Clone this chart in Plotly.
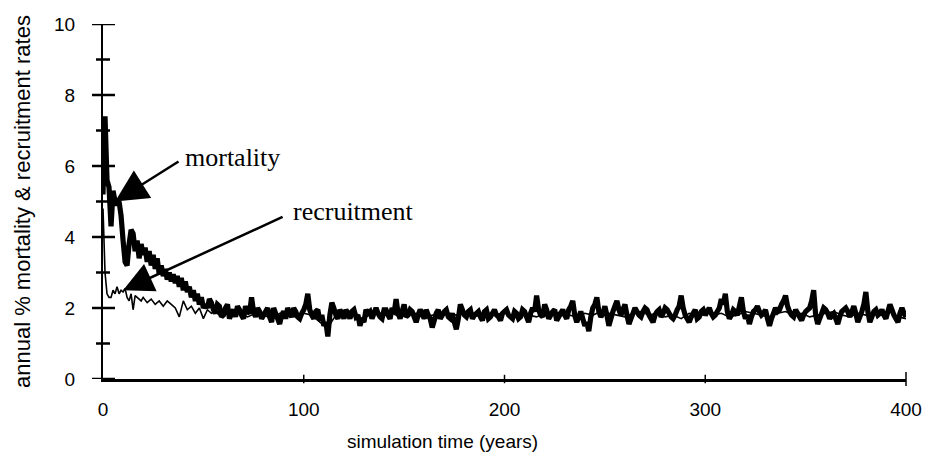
import plotly.graph_objects as go

# ---- data ----
mort_years = list(range(0, 401))
mortality = [
    # 0-20
    5.2, 7.4, 5.6, 5.4, 4.3, 5.3, 5.0, 4.9, 5.0, 4.6, 3.9, 3.3, 3.2, 3.8, 4.2, 4.1, 3.6, 3.9, 3.4, 3.8, 3.5,
    # 21-40
    3.7, 3.3, 3.6, 3.2, 3.5, 3.1, 3.4, 2.95, 3.2, 2.9, 3.1, 2.8, 3.0, 2.75, 2.95, 2.7, 2.9, 2.6, 2.85, 2.5,
    # 41-60
    2.75, 2.45, 2.6, 2.3, 2.5, 2.2, 2.4, 2.1, 2.3, 2.0, 2.1, 2.0, 2.25, 2.15, 1.95, 1.85, 2.1, 2.05, 1.75, 1.8,
    # 61-80
    2.0, 2.1, 1.7, 1.85, 1.95, 1.75, 2.05, 1.95, 1.8, 1.7, 2.05, 1.9, 1.85, 2.3, 1.9, 1.75, 2.0, 1.9, 1.7, 1.8,
    # 81-100
    1.9, 2.0, 1.75, 1.6, 2.0, 1.85, 1.7, 1.55, 1.8, 1.9, 1.7, 2.0, 1.85, 1.75, 2.0, 1.9, 1.75, 1.7, 1.85, 1.95,
    # 101-120
    2.1, 2.4, 1.95, 1.8, 1.7, 1.9, 1.95, 1.65, 1.8, 1.5, 1.6, 1.2, 1.8, 2.15, 2.0, 1.8, 1.7, 1.95, 1.85, 1.7,
    # 121-140
    1.95, 1.85, 1.7, 1.9, 1.95, 1.75, 1.8, 1.5, 1.7, 1.6, 1.95, 1.85, 1.9, 1.7, 1.85, 2.0, 1.85, 1.75, 1.7, 1.95,
    # 141-160
    1.95, 1.8, 1.7, 2.0, 1.85, 2.25, 1.85, 1.7, 1.9, 2.1, 1.75, 1.8, 1.95, 1.9, 1.75, 1.6, 1.8, 1.95, 1.85, 1.7,
    # 161-180
    1.95, 1.8, 1.7, 1.45, 1.65, 1.85, 1.95, 1.7, 1.8, 1.9, 1.95, 1.75, 1.7, 1.85, 1.6, 1.4, 1.7, 2.1, 1.95, 1.8,
    # 181-200
    1.75, 1.9, 1.95, 1.7, 1.8, 1.85, 1.9, 1.75, 1.65, 1.9, 1.95, 1.7, 1.75, 1.85, 1.95, 1.8, 1.75, 1.65, 1.85, 1.9,
    # 201-220
    1.95, 1.8, 1.75, 1.7, 1.9, 1.85, 1.7, 1.75, 1.95, 1.9, 1.75, 1.6, 1.85, 2.0, 1.9, 2.35, 1.95, 1.8, 1.75, 2.1,
    # 221-240
    1.95, 1.7, 1.8, 1.9, 1.95, 1.65, 1.75, 1.85, 1.95, 1.8, 1.7, 1.95, 2.05, 2.2, 1.8, 1.6, 1.75, 1.9, 1.7, 1.5,
    # 241-260
    1.6, 1.35, 1.75, 2.0, 2.1, 2.3, 1.9, 1.75, 1.85, 2.05, 1.8, 1.5, 1.7, 1.9, 2.05, 2.2, 1.95, 1.8, 1.95, 2.1,
    # 261-280
    1.8, 1.55, 1.7, 1.85, 2.0, 1.9, 1.8, 1.75, 1.9, 2.0, 1.95, 1.8, 1.7, 1.6, 1.8, 1.9, 1.95, 1.75, 1.85, 2.0,
    # 281-300
    1.95, 1.85, 1.75, 1.7, 1.8, 1.95, 2.05, 2.35, 2.0, 1.8, 1.7, 1.6, 1.75, 1.85, 1.95, 1.7, 1.75, 1.9, 1.95, 1.8,
    # 301-320
    1.9, 2.0, 1.85, 1.75, 1.8, 1.9, 2.0, 2.25, 2.1, 2.4, 1.9, 1.7, 1.8, 1.95, 1.9, 1.8, 2.05, 2.3, 1.9, 1.7,
    # 321-340
    1.8, 1.55, 1.75, 1.9, 1.95, 2.05, 1.9, 1.8, 1.85, 1.95, 1.7, 1.5, 1.7, 1.85, 2.0, 1.9, 1.95, 2.1, 2.2, 2.35,
    # 341-360
    2.05, 1.9, 1.8, 1.75, 1.95, 1.85, 1.75, 1.65, 1.8, 1.9, 1.95, 2.0, 2.2, 2.5, 1.8, 1.55, 1.7, 1.85, 2.0, 1.95,
    # 361-380
    1.85, 1.7, 1.8, 1.85, 1.7, 1.55, 1.75, 1.9, 1.95, 2.0, 1.9, 1.75, 1.9, 2.05, 1.85, 1.6, 1.75, 1.9, 2.1, 2.45,
    # 381-400
    1.9, 1.6, 1.75, 1.9, 1.95, 1.8, 1.85, 1.95, 1.8, 1.7, 1.9, 2.1, 1.95, 1.8, 1.7, 1.6, 1.85, 2.0, 1.85, 1.75,
]

rec_years = list(range(0, 21)) + list(range(22, 61, 2)) + list(range(64, 401, 4))
recruitment = [
    # 0-20
    4.8, 3.0, 2.4, 2.3, 2.3, 2.5, 2.4, 2.6, 2.4, 2.5, 2.45, 2.55, 2.3, 2.2, 2.4, 1.95, 2.35, 2.3, 2.25, 2.2, 2.3,
    # 22-60 (step 2)
    2.15, 2.25, 2.1, 2.2, 2.05, 2.2, 2.1, 2.0, 1.75, 2.2, 1.95, 2.05, 1.85, 2.0, 1.7, 1.95, 1.85, 1.9, 1.8, 1.9,
    # 64-100 (step 4)
    1.8, 1.85, 1.75, 1.85, 1.8, 1.7, 1.85, 1.8, 1.75, 1.85,
    # 104-140
    1.8, 1.6, 1.45, 1.8, 1.75, 1.85, 1.7, 1.8, 1.85, 1.8,
    # 144-180
    1.85, 1.75, 1.8, 1.85, 1.7, 1.8, 1.75, 1.85, 1.8, 1.9,
    # 184-220
    1.75, 1.8, 1.85, 1.8, 1.9, 1.75, 1.85, 1.8, 1.75, 1.85,
    # 224-260
    1.8, 1.9, 1.8, 1.75, 1.85, 1.8, 1.9, 1.85, 1.8, 1.75,
    # 264-300
    1.85, 1.9, 1.8, 1.85, 1.75, 1.8, 1.7, 1.85, 1.8, 1.9,
    # 304-340
    1.8, 1.85, 1.75, 1.8, 1.9, 1.85, 1.8, 1.75, 1.85, 1.9,
    # 344-380
    1.8, 1.85, 1.75, 1.8, 1.85, 1.9, 1.8, 1.75, 1.85, 1.8,
    # 384-400
    1.85, 1.8, 1.9, 1.75, 1.7,
]

x_ticks = [0, 100, 200, 300, 400]
y_ticks = [0, 2, 4, 6, 8, 10]
y_minor = [1, 3, 5, 7, 9]

x_title = "simulation time (years)"
y_title = "annual % mortality & recruitment rates"

fig = go.Figure()
fig.add_trace(go.Scatter(x=rec_years, y=recruitment, mode="lines",
                         line=dict(color="black", width=1.6, simplify=False), name="recruitment",
                         showlegend=False, hoverinfo="skip"))
fig.add_trace(go.Scatter(x=mort_years, y=mortality, mode="lines",
                         line=dict(color="black", width=5.2, simplify=False), name="mortality",
                         showlegend=False, hoverinfo="skip"))

# small tick marks on the x axis (vertical line markers)
fig.add_trace(go.Scatter(x=x_ticks[1:-1], y=[0] * (len(x_ticks) - 2), mode="markers", cliponaxis=False,
                         marker=dict(symbol="line-ns", size=6, color="black",
                                     line=dict(color="black", width=1.5)),
                         showlegend=False, hoverinfo="skip"))
fig.add_trace(go.Scatter(x=x_ticks[-1:], y=[0], mode="markers", cliponaxis=False,
                         marker=dict(symbol="line-ns", size=10, color="black",
                                     line=dict(color="black", width=1.5)),
                         showlegend=False, hoverinfo="skip"))

tickfont = dict(family="Liberation Sans, Arial, sans-serif", size=19, color="black")

fig.update_layout(
    width=951, height=460,
    margin=dict(l=103, r=45, t=24, b=81),
    paper_bgcolor="white", plot_bgcolor="white",
    xaxis=dict(range=[0, 400], tickmode="array", tickvals=x_ticks, ticks="",
               showline=True, linecolor="black", linewidth=3,
               showgrid=False, zeroline=False, tickfont=tickfont, ticklabelstandoff=11),
    yaxis=dict(range=[0, 10], tickmode="array", tickvals=y_ticks, ticks="",
               showline=True, linecolor="black", linewidth=2,
               showgrid=False, zeroline=False, tickfont=tickfont, ticklabelstandoff=22),
)

pw, ph = 951 - 103 - 45, 460 - 24 - 81

# y-axis tick marks crossing the axis line (major and minor)
for v in y_ticks:
    fig.add_shape(type="line", xref="x domain", yref="y", x0=-11 / pw, x1=12 / pw, y0=v, y1=v,
                  line=dict(color="black", width=2.5), layer="above")
for v in y_minor:
    fig.add_shape(type="line", xref="x domain", yref="y", x0=-7 / pw, x1=7 / pw, y0=v, y1=v,
                  line=dict(color="black", width=2.5), layer="above")

labfont = dict(family="Liberation Serif, Times New Roman, serif", size=26, color="black")
fig.add_annotation(x=6, y=5.0, xref="x", yref="y", ax=65, ay=-41, text="",
                   showarrow=True, arrowhead=2, arrowsize=2.6, arrowwidth=2.5, arrowcolor="black")
fig.add_annotation(x=10, y=2.5, xref="x", yref="y", ax=161, ay=-74, text="",
                   showarrow=True, arrowhead=2, arrowsize=2.4, arrowwidth=2.5, arrowcolor="black")


def px_to_paper(px, py):
    return (px - 103) / pw, 1 - (py - 24) / ph


mx, my = px_to_paper(183, 158)
fig.add_annotation(x=mx, y=my, xref="paper", yref="paper", text="mortality",
                   showarrow=False, font=labfont, xanchor="left", yanchor="middle")
rx, ry = px_to_paper(291, 211)
fig.add_annotation(x=rx, y=ry, xref="paper", yref="paper", text="recruitment",
                   showarrow=False, font=labfont, xanchor="left", yanchor="middle")

tx, ty = px_to_paper(442, 441)
fig.add_annotation(x=tx, y=ty, xref="paper", yref="paper",
                   text=x_title, showarrow=False, xanchor="center", yanchor="middle",
                   font=dict(family="Liberation Sans, Arial, sans-serif", size=19, color="black"))
yx, yy = px_to_paper(22, 202)
fig.add_annotation(x=yx, y=yy, xref="paper", yref="paper",
                   text=y_title, textangle=-90, showarrow=False, xanchor="center", yanchor="middle",
                   font=dict(family="Liberation Sans, Arial, sans-serif", size=22, color="black"))

fig.write_html("out.html")
